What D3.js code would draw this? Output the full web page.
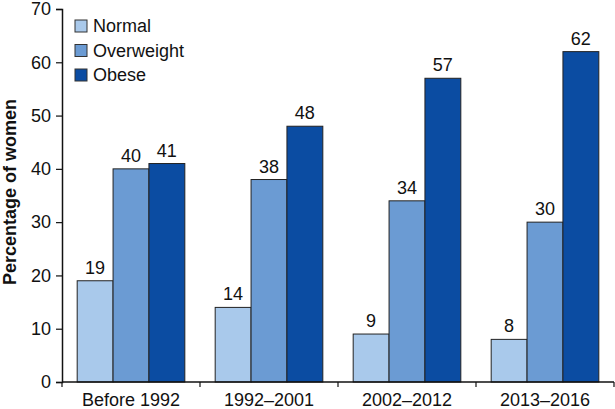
<!DOCTYPE html>
<html><head><meta charset="utf-8">
<script src="https://cdn.jsdelivr.net/npm/d3@7"></script>
<style>
body{margin:0;background:#fff;}
svg{display:block;font-family:"Liberation Sans",Arial,Helvetica,sans-serif;}
</style></head>
<body><svg id="c" width="615" height="409"></svg>
<script>
const categories = ["Before 1992", "1992\u20132001", "2002\u20132012", "2013\u20132016"];
const seriesNames = ["Normal", "Overweight", "Obese"];
const normal = [19, 14, 9, 8];
const overweight = [40, 38, 34, 30];
const obese = [41, 48, 57, 62];
const yTicks = [0, 10, 20, 30, 40, 50, 60, 70];
const colors = ["#a9c9eb", "#6b9bd3", "#0b4ca2"];
const series = [normal, overweight, obese];

const svg = d3.select("#c");
const x = d3.scaleBand().domain(categories).range([62, 614]).paddingInner(0.22).paddingOuter(0.11);
const xs = d3.scaleBand().domain(seriesNames).range([0, x.bandwidth()]);
const y = d3.scaleLinear().domain([0, 70]).range([382, 9]);

// bars
series.forEach((vals, si) => {
  svg.append("g").selectAll("rect").data(vals).join("rect")
    .attr("x", (d, i) => x(categories[i]) + xs(seriesNames[si]))
    .attr("y", d => y(d))
    .attr("width", xs.bandwidth())
    .attr("height", d => y(0) - y(d))
    .attr("fill", colors[si])
    .attr("stroke", "#222")
    .attr("stroke-width", 1);
  svg.append("g").selectAll("text").data(vals).join("text")
    .attr("x", (d, i) => x(categories[i]) + xs(seriesNames[si]) + xs.bandwidth() / 2)
    .attr("y", d => y(d) - 7)
    .attr("text-anchor", "middle")
    .attr("font-size", 18)
    .attr("fill", "#111")
    .text(d => d);
});

// y axis
const yAxis = svg.append("g").attr("transform", "translate(62,0)")
  .call(d3.axisLeft(y).tickValues(yTicks).tickSize(6).tickPadding(5));
yAxis.select(".domain").attr("stroke", "#111").attr("stroke-width", 1.5);
yAxis.selectAll(".tick line").attr("stroke", "#111").attr("stroke-width", 1.2);
yAxis.selectAll("text").attr("font-size", 18).attr("fill", "#111").attr("font-family", "Liberation Sans, Arial, sans-serif");

// x axis with ticks at band boundaries
const xAxisG = svg.append("g").attr("transform", "translate(0,382)");
xAxisG.append("line").attr("x1", 62).attr("x2", 614).attr("stroke", "#111").attr("stroke-width", 1.5);
const bounds = categories.map((c, i) => x.range()[0] + i * x.step());
bounds.push(x.range()[1]);
xAxisG.selectAll("line.t").data(bounds).join("line").attr("class", "t")
  .attr("x1", d => d).attr("x2", d => d).attr("y1", 0).attr("y2", 5)
  .attr("stroke", "#111").attr("stroke-width", 1.2);
xAxisG.selectAll("text").data(categories).join("text")
  .attr("x", d => x(d) + x.bandwidth() / 2)
  .attr("y", 24)
  .attr("text-anchor", "middle")
  .attr("font-size", 18)
  .attr("fill", "#111")
  .text(d => d);

// y title
svg.append("text")
  .attr("transform", "translate(16,192) rotate(-90)")
  .attr("text-anchor", "middle")
  .attr("font-size", 18)
  .attr("font-weight", "bold")
  .attr("fill", "#111")
  .text("Percentage of women");

// legend
const lg = svg.append("g").attr("transform", "translate(75,20)");
seriesNames.forEach((n, i) => {
  const g = lg.append("g").attr("transform", `translate(0,${i * 24.5})`);
  g.append("rect").attr("width", 12).attr("height", 12).attr("fill", colors[i]).attr("stroke", "#333").attr("stroke-width", 1);
  g.append("text").attr("x", 18).attr("y", 12).attr("font-size", 18).attr("fill", "#111").text(n);
});
</script></body></html>
